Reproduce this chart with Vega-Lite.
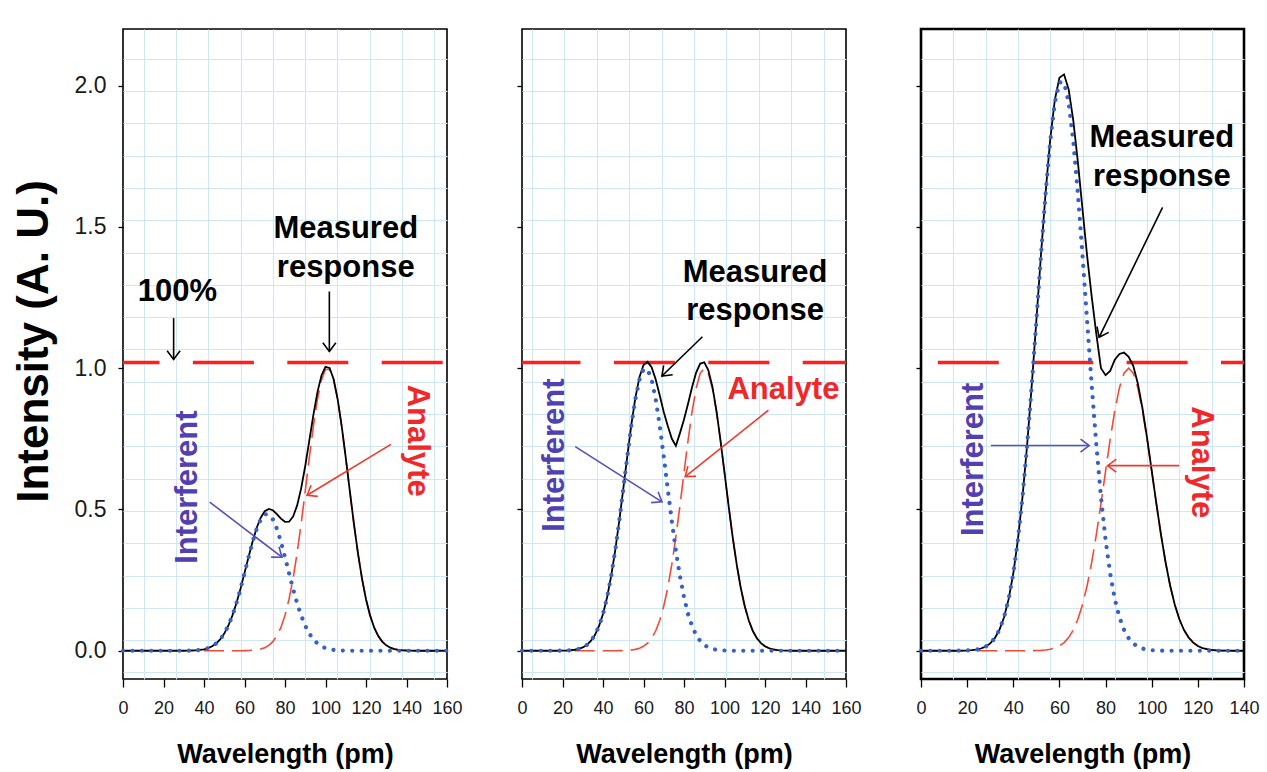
{
  "$schema": "https://vega.github.io/schema/vega-lite/v6.json",
  "background": "white",
  "padding": {"left": 11, "top": 27, "right": 0, "bottom": 0},
  "bounds": "flush",
  "spacing": 75,
  "config": {
    "font": "Liberation Sans",
    "view": {"stroke": "#000000", "strokeWidth": 1.6},
    "axis": {"domain": false, "grid": true, "tickCount": 500, "gridColor": "#cfe7f5", "gridWidth": 1.1, "tickColor": "#000000", "tickWidth": 1.3, "labelColor": "#1a1a1a", "labelFont": "Liberation Sans", "titleFont": "Liberation Sans", "titleColor": "#000000", "titleFontWeight": "bold", "labelOverlap": false, "labelFlush": false},
    "axisX": {"tickSize": 8, "labelFontSize": 18, "labelPadding": 12, "titleFontSize": 27, "titlePadding": 24},
    "axisY": {"tickSize": 5, "labelFontSize": 23, "labelPadding": 12, "titleFontSize": 44, "titlePadding": 18}
  },
  "hconcat": [
    {
      "width": 324, "height": 650,
      "data": {"values": [
        {"x":0,"i":0,"a":0,"m":0},{"x":30,"i":0,"a":0,"m":0},{"x":32,"i":0.0004,"a":0,"m":0.0004},{"x":34,"i":0.0008,"a":0,"m":0.0008},{"x":36,"i":0.0015,"a":0,"m":0.0015},{"x":38,"i":0.0029,"a":0,"m":0.0029},{"x":40,"i":0.0052,"a":0,"m":0.0052},{"x":42,"i":0.0092,"a":0,"m":0.0092},{"x":44,"i":0.0156,"a":0,"m":0.0156},{"x":46,"i":0.0255,"a":0,"m":0.0255},{"x":48,"i":0.0401,"a":0,"m":0.0401},{"x":50,"i":0.0607,"a":0,"m":0.0607},{"x":52,"i":0.0885,"a":0,"m":0.0885},{"x":54,"i":0.1243,"a":0,"m":0.1243},{"x":56,"i":0.168,"a":0,"m":0.168},{"x":58,"i":0.2187,"a":0.0002,"m":0.2189},{"x":60,"i":0.2742,"a":0.0004,"m":0.2746},{"x":62,"i":0.3311,"a":0.0008,"m":0.3319},{"x":64,"i":0.385,"a":0.0016,"m":0.3866},{"x":66,"i":0.4311,"a":0.0031,"m":0.4342},{"x":68,"i":0.4649,"a":0.0059,"m":0.4708},{"x":70,"i":0.4827,"a":0.0108,"m":0.4935},{"x":72,"i":0.4827,"a":0.019,"m":0.5017},{"x":74,"i":0.4649,"a":0.0322,"m":0.4971},{"x":76,"i":0.4311,"a":0.0526,"m":0.4837},{"x":78,"i":0.385,"a":0.0826,"m":0.4676},{"x":80,"i":0.3311,"a":0.1251,"m":0.4562},{"x":82,"i":0.2742,"a":0.1824,"m":0.4566},{"x":84,"i":0.2187,"a":0.2562,"m":0.4749},{"x":86,"i":0.168,"a":0.3463,"m":0.5143},{"x":88,"i":0.1243,"a":0.4509,"m":0.5752},{"x":90,"i":0.0885,"a":0.5653,"m":0.6538},{"x":92,"i":0.0607,"a":0.6827,"m":0.7434},{"x":94,"i":0.0401,"a":0.7938,"m":0.8339},{"x":96,"i":0.0255,"a":0.8889,"m":0.9144},{"x":98,"i":0.0156,"a":0.9585,"m":0.9741},{"x":100,"i":0.0092,"a":0.9953,"m":1.0045},{"x":102,"i":0.0052,"a":0.9953,"m":1.0005},{"x":104,"i":0.0029,"a":0.9585,"m":0.9614},{"x":106,"i":0.0015,"a":0.8889,"m":0.8904},{"x":108,"i":0.0008,"a":0.7938,"m":0.7946},{"x":110,"i":0.0004,"a":0.6827,"m":0.6831},{"x":112,"i":0,"a":0.5653,"m":0.5653},{"x":114,"i":0,"a":0.4509,"m":0.4509},{"x":116,"i":0,"a":0.3463,"m":0.3463},{"x":118,"i":0,"a":0.2562,"m":0.2562},{"x":120,"i":0,"a":0.1824,"m":0.1824},{"x":122,"i":0,"a":0.1251,"m":0.1251},{"x":124,"i":0,"a":0.0826,"m":0.0826},{"x":126,"i":0,"a":0.0526,"m":0.0526},{"x":128,"i":0,"a":0.0322,"m":0.0322},{"x":130,"i":0,"a":0.019,"m":0.019},{"x":132,"i":0,"a":0.0108,"m":0.0108},{"x":134,"i":0,"a":0.0059,"m":0.0059},{"x":136,"i":0,"a":0.0031,"m":0.0031},{"x":138,"i":0,"a":0.0016,"m":0.0016},{"x":140,"i":0,"a":0.0008,"m":0.0008},{"x":142,"i":0,"a":0.0004,"m":0.0004},{"x":144,"i":0,"a":0,"m":0},{"x":160,"i":0,"a":0,"m":0}
      ]},
      "layer": [
        {
          "data": {"values": [{"level": 1.02}]},
          "mark": {"type": "rule", "color": "#ff1f1f", "strokeWidth": 3.4, "strokeDash": [61, 33.4], "strokeDashOffset": 90.1},
          "encoding": {"y": {"field": "level", "type": "quantitative"}}
        },
        {
          "transform": [{"filter": "datum.x >= 40"}],
          "mark": {"type": "line", "color": "#f24a36", "strokeWidth": 1.6, "strokeDash": [20, 8]},
          "encoding": {"x": {"field": "x", "type": "quantitative"}, "y": {"field": "a", "type": "quantitative"}}
        },
        {
          "mark": {"type": "line", "color": "#000000", "strokeWidth": 1.8},
          "encoding": {
            "x": {"field": "x", "type": "quantitative", "scale": {"domain": [0, 160], "nice": false, "zero": false},
              "axis": {"title": "Wavelength (pm)", "values": [0,20,40,60,80,100,120,140,160,10.2,26.15,42.1,58.05,74,89.95,105.9,121.85,137.8,153.75],
                "labelExpr": "datum.value % 20 === 0 ? format(datum.value, 'd') : ''",
                "tickOpacity": {"condition": {"test": "datum.value % 20 === 0", "value": 1}, "value": 0},
                "gridOpacity": {"condition": {"test": "datum.value % 20 === 0", "value": 0}, "value": 1}}},
            "y": {"field": "m", "type": "quantitative", "scale": {"domain": [-0.1, 2.2], "nice": false, "zero": false},
              "axis": {"title": "Intensity (A. U.)", "titleY": 312, "values": [0,0.5,1,1.5,2,2.094,1.98,1.866,1.751,1.637,1.523,1.409,1.294,1.18,1.066,0.952,0.837,0.723,0.609,0.495,0.38,0.266,0.152,0.038,-0.076],
                "labelExpr": "indexof([0,0.5,1,1.5,2], datum.value) >= 0 ? format(datum.value, '.1f') : ''",
                "tickOpacity": {"condition": {"test": "indexof([0,0.5,1,1.5,2], datum.value) >= 0", "value": 1}, "value": 0},
                "gridOpacity": {"condition": {"test": "indexof([0,0.5,1,1.5,2], datum.value) >= 0", "value": 0}, "value": 1}}}
          }
        },
        {
          "mark": {"type": "line", "color": "#3561c9", "strokeWidth": 4.2, "strokeCap": "round", "strokeDash": [0.01, 9.4]},
          "encoding": {"x": {"field": "x", "type": "quantitative"}, "y": {"field": "i", "type": "quantitative"}}
        },
        {
          "data": {"values": [
            {"k":"m","x":25.0,"y":1.177,"x2":25.0,"y2":1.031,"dir":90},
            {"k":"m","x":101.9,"y":1.271,"x2":101.9,"y2":1.059,"dir":90},
            {"k":"i","x":42.8,"y":0.526,"x2":78.5,"y2":0.331,"dir":37.2},
            {"k":"a","x":132.3,"y":0.73,"x2":90.9,"y2":0.55,"dir":148.7}
          ]},
          "layer": [
            {
              "mark": {"type": "rule", "strokeWidth": 1.6},
              "encoding": {
                "x": {"field": "x", "type": "quantitative"}, "y": {"field": "y", "type": "quantitative"},
                "x2": {"field": "x2"}, "y2": {"field": "y2"},
                "color": {"field": "k", "type": "nominal", "scale": {"domain": ["m","i","a"], "range": ["#000000","#5a4fb8","#f03a2c"]}, "legend": null}
              }
            },
            {
              "mark": {"type": "point", "shape": "M -1 -0.75 L 0 0 L -1 0.75", "filled": false, "size": 300, "strokeWidth": 1.6, "opacity": 1},
              "encoding": {
                "x": {"field": "x2", "type": "quantitative"}, "y": {"field": "y2", "type": "quantitative"},
                "angle": {"field": "dir", "type": "quantitative", "scale": {"domain": [0, 360], "range": [0, 360]}},
                "color": {"field": "k", "type": "nominal", "scale": {"domain": ["m","i","a"], "range": ["#000000","#5a4fb8","#f03a2c"]}, "legend": null}
              }
            }
          ]
        },
        {
          "data": {"values": [{"t":"100%","x":26.9,"y":1.239},{"t":"Measured","x":110,"y":1.46},{"t":"response","x":110,"y":1.322}]},
          "mark": {"type": "text", "fontSize": 31, "fontWeight": "bold", "align": "center", "baseline": "alphabetic", "color": "#000000"},
          "encoding": {"x": {"field": "x", "type": "quantitative"}, "y": {"field": "y", "type": "quantitative"}, "text": {"field": "t"}}
        },
        {
          "data": {"values": [{"t":"Interferent","x":36.7,"y":0.579}]},
          "mark": {"type": "text", "fontSize": 31, "fontWeight": "bold", "align": "center", "baseline": "alphabetic", "angle": 270, "color": "#5040b0"},
          "encoding": {"x": {"field": "x", "type": "quantitative"}, "y": {"field": "y", "type": "quantitative"}, "text": {"field": "t"}}
        },
        {
          "data": {"values": [{"t":"Analyte","x":140.9,"y":0.7435}]},
          "mark": {"type": "text", "fontSize": 31, "fontWeight": "bold", "align": "center", "baseline": "alphabetic", "angle": 90, "color": "#f0282a"},
          "encoding": {"x": {"field": "x", "type": "quantitative"}, "y": {"field": "y", "type": "quantitative"}, "text": {"field": "t"}}
        }
      ]
    },
    {
      "width": 324, "height": 650,
      "data": {"values": [
        {"x":0,"i":0,"a":0,"m":0},{"x":18,"i":0,"a":0,"m":0},{"x":20,"i":0.0004,"a":0,"m":0.0004},{"x":22,"i":0.0009,"a":0,"m":0.0009},{"x":24,"i":0.0018,"a":0,"m":0.0018},{"x":26,"i":0.0035,"a":0,"m":0.0035},{"x":28,"i":0.0065,"a":0,"m":0.0065},{"x":30,"i":0.0118,"a":0,"m":0.0118},{"x":32,"i":0.0205,"a":0,"m":0.0205},{"x":34,"i":0.0344,"a":0,"m":0.0344},{"x":36,"i":0.0556,"a":0,"m":0.0556},{"x":38,"i":0.0867,"a":0,"m":0.0867},{"x":40,"i":0.1302,"a":0,"m":0.1302},{"x":42,"i":0.1885,"a":0,"m":0.1885},{"x":44,"i":0.2629,"a":0,"m":0.2629},{"x":46,"i":0.3534,"a":0.0001,"m":0.3535},{"x":48,"i":0.4579,"a":0.0003,"m":0.4582},{"x":50,"i":0.5716,"a":0.0006,"m":0.5722},{"x":52,"i":0.6877,"a":0.0013,"m":0.689},{"x":54,"i":0.7973,"a":0.0025,"m":0.7998},{"x":56,"i":0.8909,"a":0.0048,"m":0.8957},{"x":58,"i":0.9592,"a":0.0088,"m":0.968},{"x":60,"i":0.9954,"a":0.0156,"m":1.011},{"x":62,"i":0.9954,"a":0.0267,"m":1.0221},{"x":64,"i":0.9592,"a":0.0439,"m":1.0031},{"x":66,"i":0.8909,"a":0.0698,"m":0.9607},{"x":68,"i":0.7973,"a":0.1067,"m":0.904},{"x":70,"i":0.6877,"a":0.1574,"m":0.8451},{"x":72,"i":0.5716,"a":0.2236,"m":0.7952},{"x":74,"i":0.4579,"a":0.3062,"m":0.75},{"x":76,"i":0.3534,"a":0.4041,"m":0.725},{"x":78,"i":0.2629,"a":0.5139,"m":0.77},{"x":80,"i":0.1885,"a":0.6298,"m":0.8183},{"x":82,"i":0.1302,"a":0.7439,"m":0.8741},{"x":84,"i":0.0867,"a":0.8467,"m":0.9334},{"x":86,"i":0.0556,"a":0.9287,"m":0.9843},{"x":88,"i":0.0344,"a":0.9817,"m":1.0161},{"x":90,"i":0.0205,"a":1.0,"m":1.0205},{"x":92,"i":0.0118,"a":0.9817,"m":0.9935},{"x":94,"i":0.0065,"a":0.9287,"m":0.9352},{"x":96,"i":0.0035,"a":0.8467,"m":0.8502},{"x":98,"i":0.0018,"a":0.7439,"m":0.7457},{"x":100,"i":0.0009,"a":0.6298,"m":0.6307},{"x":102,"i":0.0004,"a":0.5139,"m":0.5143},{"x":104,"i":0,"a":0.4041,"m":0.4041},{"x":106,"i":0,"a":0.3062,"m":0.3062},{"x":108,"i":0,"a":0.2236,"m":0.2236},{"x":110,"i":0,"a":0.1574,"m":0.1574},{"x":112,"i":0,"a":0.1067,"m":0.1067},{"x":114,"i":0,"a":0.0698,"m":0.0698},{"x":116,"i":0,"a":0.0439,"m":0.0439},{"x":118,"i":0,"a":0.0267,"m":0.0267},{"x":120,"i":0,"a":0.0156,"m":0.0156},{"x":122,"i":0,"a":0.0088,"m":0.0088},{"x":124,"i":0,"a":0.0048,"m":0.0048},{"x":126,"i":0,"a":0.0025,"m":0.0025},{"x":128,"i":0,"a":0.0013,"m":0.0013},{"x":130,"i":0,"a":0.0006,"m":0.0006},{"x":132,"i":0,"a":0.0003,"m":0.0003},{"x":134,"i":0,"a":0,"m":0},{"x":160,"i":0,"a":0,"m":0}
      ]},
      "layer": [
        {
          "data": {"values": [{"level": 1.02}]},
          "mark": {"type": "rule", "color": "#ff1f1f", "strokeWidth": 3.4, "strokeDash": [61, 33.4], "strokeDashOffset": 17.7},
          "encoding": {"y": {"field": "level", "type": "quantitative"}}
        },
        {
          "transform": [{"filter": "datum.x >= 26"}],
          "mark": {"type": "line", "color": "#f24a36", "strokeWidth": 1.6, "strokeDash": [20, 8]},
          "encoding": {"x": {"field": "x", "type": "quantitative"}, "y": {"field": "a", "type": "quantitative"}}
        },
        {
          "mark": {"type": "line", "color": "#000000", "strokeWidth": 1.8},
          "encoding": {
            "x": {"field": "x", "type": "quantitative", "scale": {"domain": [0, 160], "nice": false, "zero": false},
              "axis": {"title": "Wavelength (pm)", "values": [0,20,40,60,80,100,120,140,160,4.9,20.9,36.9,52.9,68.9,84.9,100.9,116.9,132.9,148.9],
                "labelExpr": "datum.value % 20 === 0 ? format(datum.value, 'd') : ''",
                "tickOpacity": {"condition": {"test": "datum.value % 20 === 0", "value": 1}, "value": 0},
                "gridOpacity": {"condition": {"test": "datum.value % 20 === 0", "value": 0}, "value": 1}}},
            "y": {"field": "m", "type": "quantitative", "scale": {"domain": [-0.1, 2.2], "nice": false, "zero": false},
              "axis": {"title": null, "labels": false, "values": [0,0.5,1,1.5,2,2.094,1.98,1.866,1.751,1.637,1.523,1.409,1.294,1.18,1.066,0.952,0.837,0.723,0.609,0.495,0.38,0.266,0.152,0.038,-0.076],
                "tickOpacity": {"condition": {"test": "indexof([0,0.5,1,1.5,2], datum.value) >= 0", "value": 1}, "value": 0},
                "gridOpacity": {"condition": {"test": "indexof([0,0.5,1,1.5,2], datum.value) >= 0", "value": 0}, "value": 1}}}
          }
        },
        {
          "mark": {"type": "line", "color": "#3561c9", "strokeWidth": 4.2, "strokeCap": "round", "strokeDash": [0.01, 9.4]},
          "encoding": {"x": {"field": "x", "type": "quantitative"}, "y": {"field": "i", "type": "quantitative"}}
        },
        {
          "data": {"values": [
            {"k":"m","x":89.1,"y":1.111,"x2":69.1,"y2":0.972,"dir":135.9},
            {"k":"i","x":26.3,"y":0.722,"x2":69.1,"y2":0.527,"dir":32.4},
            {"k":"a","x":121.7,"y":0.851,"x2":80.6,"y2":0.616,"dir":141.3}
          ]},
          "layer": [
            {
              "mark": {"type": "rule", "strokeWidth": 1.6},
              "encoding": {
                "x": {"field": "x", "type": "quantitative"}, "y": {"field": "y", "type": "quantitative"},
                "x2": {"field": "x2"}, "y2": {"field": "y2"},
                "color": {"field": "k", "type": "nominal", "scale": {"domain": ["m","i","a"], "range": ["#000000","#5a4fb8","#f03a2c"]}, "legend": null}
              }
            },
            {
              "mark": {"type": "point", "shape": "M -1 -0.75 L 0 0 L -1 0.75", "filled": false, "size": 300, "strokeWidth": 1.6, "opacity": 1},
              "encoding": {
                "x": {"field": "x2", "type": "quantitative"}, "y": {"field": "y2", "type": "quantitative"},
                "angle": {"field": "dir", "type": "quantitative", "scale": {"domain": [0, 360], "range": [0, 360]}},
                "color": {"field": "k", "type": "nominal", "scale": {"domain": ["m","i","a"], "range": ["#000000","#5a4fb8","#f03a2c"]}, "legend": null}
              }
            }
          ]
        },
        {
          "data": {"values": [{"t":"Measured","x":115.1,"y":1.305},{"t":"response","x":115.1,"y":1.17}]},
          "mark": {"type": "text", "fontSize": 31, "fontWeight": "bold", "align": "center", "baseline": "alphabetic", "color": "#000000"},
          "encoding": {"x": {"field": "x", "type": "quantitative"}, "y": {"field": "y", "type": "quantitative"}, "text": {"field": "t"}}
        },
        {
          "data": {"values": [{"t":"Interferent","x":20.9,"y":0.692}]},
          "mark": {"type": "text", "fontSize": 31, "fontWeight": "bold", "align": "center", "baseline": "alphabetic", "angle": 270, "color": "#5040b0"},
          "encoding": {"x": {"field": "x", "type": "quantitative"}, "y": {"field": "y", "type": "quantitative"}, "text": {"field": "t"}}
        },
        {
          "data": {"values": [{"t":"Analyte","x":129.1,"y":0.89}]},
          "mark": {"type": "text", "fontSize": 31, "fontWeight": "bold", "align": "center", "baseline": "alphabetic", "color": "#f0282a"},
          "encoding": {"x": {"field": "x", "type": "quantitative"}, "y": {"field": "y", "type": "quantitative"}, "text": {"field": "t"}}
        }
      ]
    },
    {
      "width": 323, "height": 650,
      "view": {"stroke": "#000000", "strokeWidth": 2.6},
      "data": {"values": [
        {"x":0,"i":0,"a":0,"m":0},{"x":16,"i":0,"a":0,"m":0},{"x":18,"i":0.0004,"a":0,"m":0.0004},{"x":20,"i":0.001,"a":0,"m":0.001},{"x":22,"i":0.002,"a":0,"m":0.002},{"x":24,"i":0.004,"a":0,"m":0.004},{"x":26,"i":0.0079,"a":0,"m":0.0079},{"x":28,"i":0.0145,"a":0,"m":0.0145},{"x":30,"i":0.0259,"a":0,"m":0.0259},{"x":32,"i":0.0446,"a":0,"m":0.0446},{"x":34,"i":0.0741,"a":0,"m":0.0741},{"x":36,"i":0.1186,"a":0,"m":0.1186},{"x":38,"i":0.1834,"a":0,"m":0.1834},{"x":40,"i":0.2733,"a":0,"m":0.2733},{"x":42,"i":0.3929,"a":0,"m":0.3929},{"x":44,"i":0.5446,"a":0,"m":0.5446},{"x":46,"i":0.728,"a":0.0001,"m":0.7281},{"x":48,"i":0.9387,"a":0.0003,"m":0.939},{"x":50,"i":1.1668,"a":0.0007,"m":1.1675},{"x":52,"i":1.3991,"a":0.0014,"m":1.4005},{"x":54,"i":1.6174,"a":0.0028,"m":1.6202},{"x":56,"i":1.8035,"a":0.0053,"m":1.8088},{"x":58,"i":1.9392,"a":0.0096,"m":1.9488},{"x":60,"i":2.0109,"a":0.0169,"m":2.0278},{"x":62,"i":2.0109,"a":0.0286,"m":2.0395},{"x":64,"i":1.9392,"a":0.0466,"m":1.9858},{"x":66,"i":1.8035,"a":0.0734,"m":1.8769},{"x":68,"i":1.6174,"a":0.1114,"m":1.7288},{"x":70,"i":1.3991,"a":0.163,"m":1.5621},{"x":72,"i":1.1668,"a":0.2301,"m":1.3969},{"x":74,"i":0.9387,"a":0.3132,"m":1.2519},{"x":76,"i":0.728,"a":0.4111,"m":1.12},{"x":78,"i":0.5446,"a":0.5205,"m":1.0},{"x":80,"i":0.3929,"a":0.6354,"m":0.975},{"x":82,"i":0.2733,"a":0.7481,"m":0.99},{"x":84,"i":0.1834,"a":0.8493,"m":1.03},{"x":86,"i":0.1186,"a":0.93,"m":1.05},{"x":88,"i":0.0741,"a":0.982,"m":1.055},{"x":90,"i":0.0446,"a":1.0,"m":1.04},{"x":92,"i":0.0259,"a":0.982,"m":1.0079},{"x":94,"i":0.0145,"a":0.93,"m":0.9445},{"x":96,"i":0.0079,"a":0.8493,"m":0.8572},{"x":98,"i":0.004,"a":0.7481,"m":0.7521},{"x":100,"i":0.002,"a":0.6354,"m":0.6374},{"x":102,"i":0.001,"a":0.5205,"m":0.5215},{"x":104,"i":0.0004,"a":0.4111,"m":0.4115},{"x":106,"i":0,"a":0.3132,"m":0.3132},{"x":108,"i":0,"a":0.2301,"m":0.2301},{"x":110,"i":0,"a":0.163,"m":0.163},{"x":112,"i":0,"a":0.1114,"m":0.1114},{"x":114,"i":0,"a":0.0734,"m":0.0734},{"x":116,"i":0,"a":0.0466,"m":0.0466},{"x":118,"i":0,"a":0.0286,"m":0.0286},{"x":120,"i":0,"a":0.0169,"m":0.0169},{"x":122,"i":0,"a":0.0096,"m":0.0096},{"x":124,"i":0,"a":0.0053,"m":0.0053},{"x":126,"i":0,"a":0.0028,"m":0.0028},{"x":128,"i":0,"a":0.0014,"m":0.0014},{"x":130,"i":0,"a":0.0007,"m":0.0007},{"x":132,"i":0,"a":0.0003,"m":0.0003},{"x":134,"i":0,"a":0,"m":0},{"x":140,"i":0,"a":0,"m":0}
      ]},
      "layer": [
        {
          "data": {"values": [{"level": 1.02}]},
          "mark": {"type": "rule", "color": "#ff1f1f", "strokeWidth": 3.4, "strokeDash": [61, 33.4], "strokeDashOffset": 38},
          "encoding": {"y": {"field": "level", "type": "quantitative"}}
        },
        {
          "mark": {"type": "line", "color": "#f24a36", "strokeWidth": 1.6, "strokeDash": [20, 8]},
          "encoding": {"x": {"field": "x", "type": "quantitative"}, "y": {"field": "a", "type": "quantitative"}}
        },
        {
          "mark": {"type": "line", "color": "#000000", "strokeWidth": 1.8},
          "encoding": {
            "x": {"field": "x", "type": "quantitative", "scale": {"domain": [0, 140], "nice": false, "zero": false},
              "axis": {"title": "Wavelength (pm)", "values": [0,20,40,60,80,100,120,140,14,28,42,56,70,84,98,112,126],
                "labelExpr": "datum.value % 20 === 0 ? format(datum.value, 'd') : ''",
                "tickOpacity": {"condition": {"test": "datum.value % 20 === 0", "value": 1}, "value": 0},
                "gridOpacity": {"condition": {"test": "datum.value % 20 === 0", "value": 0}, "value": 1}}},
            "y": {"field": "m", "type": "quantitative", "scale": {"domain": [-0.1, 2.2], "nice": false, "zero": false},
              "axis": {"title": null, "labels": false, "values": [0,0.5,1,1.5,2,2.094,1.98,1.866,1.751,1.637,1.523,1.409,1.294,1.18,1.066,0.952,0.837,0.723,0.609,0.495,0.38,0.266,0.152,0.038,-0.076],
                "tickOpacity": {"condition": {"test": "indexof([0,0.5,1,1.5,2], datum.value) >= 0", "value": 1}, "value": 0},
                "gridOpacity": {"condition": {"test": "indexof([0,0.5,1,1.5,2], datum.value) >= 0", "value": 0}, "value": 1}}}
          }
        },
        {
          "mark": {"type": "line", "color": "#3561c9", "strokeWidth": 4.2, "strokeCap": "round", "strokeDash": [0.01, 9.4]},
          "encoding": {"x": {"field": "x", "type": "quantitative"}, "y": {"field": "i", "type": "quantitative"}}
        },
        {
          "data": {"values": [
            {"k":"m","x":104.7,"y":1.569,"x2":77.2,"y2":1.109,"dir":116},
            {"k":"i","x":30.3,"y":0.726,"x2":72.9,"y2":0.726,"dir":0},
            {"k":"a","x":111.9,"y":0.655,"x2":80.9,"y2":0.655,"dir":180}
          ]},
          "layer": [
            {
              "mark": {"type": "rule", "strokeWidth": 1.6},
              "encoding": {
                "x": {"field": "x", "type": "quantitative"}, "y": {"field": "y", "type": "quantitative"},
                "x2": {"field": "x2"}, "y2": {"field": "y2"},
                "color": {"field": "k", "type": "nominal", "scale": {"domain": ["m","i","a"], "range": ["#000000","#5a4fb8","#f03a2c"]}, "legend": null}
              }
            },
            {
              "mark": {"type": "point", "shape": "M -1 -0.75 L 0 0 L -1 0.75", "filled": false, "size": 300, "strokeWidth": 1.6, "opacity": 1},
              "encoding": {
                "x": {"field": "x2", "type": "quantitative"}, "y": {"field": "y2", "type": "quantitative"},
                "angle": {"field": "dir", "type": "quantitative", "scale": {"domain": [0, 360], "range": [0, 360]}},
                "color": {"field": "k", "type": "nominal", "scale": {"domain": ["m","i","a"], "range": ["#000000","#5a4fb8","#f03a2c"]}, "legend": null}
              }
            }
          ]
        },
        {
          "data": {"values": [{"t":"Measured","x":104.4,"y":1.782},{"t":"response","x":104.4,"y":1.646}]},
          "mark": {"type": "text", "fontSize": 31, "fontWeight": "bold", "align": "center", "baseline": "alphabetic", "color": "#000000"},
          "encoding": {"x": {"field": "x", "type": "quantitative"}, "y": {"field": "y", "type": "quantitative"}, "text": {"field": "t"}}
        },
        {
          "data": {"values": [{"t":"Interferent","x":26.9,"y":0.677}]},
          "mark": {"type": "text", "fontSize": 31, "fontWeight": "bold", "align": "center", "baseline": "alphabetic", "angle": 270, "color": "#5040b0"},
          "encoding": {"x": {"field": "x", "type": "quantitative"}, "y": {"field": "y", "type": "quantitative"}, "text": {"field": "t"}}
        },
        {
          "data": {"values": [{"t":"Analyte","x":117.5,"y":0.667}]},
          "mark": {"type": "text", "fontSize": 31, "fontWeight": "bold", "align": "center", "baseline": "alphabetic", "angle": 90, "color": "#f0282a"},
          "encoding": {"x": {"field": "x", "type": "quantitative"}, "y": {"field": "y", "type": "quantitative"}, "text": {"field": "t"}}
        }
      ]
    }
  ]
}
